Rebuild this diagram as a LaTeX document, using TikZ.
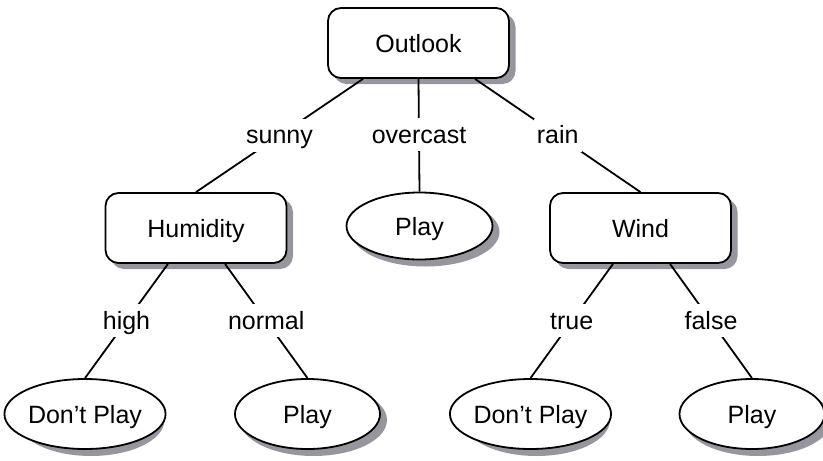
\documentclass[tikz,border=0pt]{standalone}
\usepackage{fontspec}
\setmainfont{Liberation Sans}
\usetikzlibrary{shapes.geometric,calc}
\definecolor{shadowgray}{rgb}{0.59,0.59,0.62}
\begin{document}
\begin{tikzpicture}[x=1pt,y=1pt,
  every node/.style={font=\fontsize{25}{30}\selectfont, inner sep=0pt},
  testbox/.style={draw, line width=1.8pt, rounded corners=13pt, fill=white, minimum width=181pt, minimum height=70pt, text height=18pt, text depth=0pt},
  leafbox/.style={draw, ellipse, line width=1.8pt, fill=white, minimum width=145pt, minimum height=70pt, text height=18pt, text depth=0pt},
  edge/.style={line width=1.8pt},
  boxshadow/.style={fill=shadowgray, rounded corners=13pt},
  ovalshadow/.style={fill=shadowgray},
  lbl/.style={fill=white, inner sep=3pt, text height=22pt, text depth=5pt, anchor=base, yshift=-8pt}]
\useasboundingbox (0,0) rectangle (823,-461);
\coordinate (c-outlook) at (418.5,-43);
\coordinate (c-hum) at (196,-228);
\coordinate (c-wind) at (640.5,-228);
\coordinate (c-play1) at (419.5,-226);
\coordinate (c-dp1) at (85,-414);
\coordinate (c-play2) at (307.5,-414);
\coordinate (c-dp2) at (530.5,-414);
\coordinate (c-play3) at (752,-414);
\fill[boxshadow] (418.5,-43) ++(-85,-41) rectangle ++(182,70);
\fill[boxshadow] (196,-228) ++(-85,-41) rectangle ++(182,70);
\fill[boxshadow] (640.5,-228) ++(-85,-41) rectangle ++(182,70);
\fill[ovalshadow] (425.5,-232) ellipse [x radius=74, y radius=34.5];
\fill[ovalshadow] (91,-420) ellipse [x radius=73.5, y radius=36];
\fill[ovalshadow] (313.5,-420) ellipse [x radius=73.5, y radius=36];
\fill[ovalshadow] (536.5,-420) ellipse [x radius=73.5, y radius=36];
\fill[ovalshadow] (758,-420) ellipse [x radius=73.5, y radius=36];
\node[testbox] (outlook) at (c-outlook) {Outlook};
\node[testbox] (hum) at (c-hum) {Humidity};
\node[testbox] (wind) at (c-wind) {Wind};
\node[leafbox, minimum width=146pt, minimum height=67pt] (play1) at (c-play1) {Play};
\node[leafbox] (dp1) at (c-dp1) {Don’t Play};
\node[leafbox] (play2) at (c-play2) {Play};
\node[leafbox] (dp2) at (c-dp2) {Don’t Play};
\node[leafbox] (play3) at (c-play3) {Play};
\draw[edge] ($(outlook.south)+(-55.5,0)$) -- (hum.north) node[midway, lbl] {sunny};
\draw[edge] (outlook.south) -- (play1.north) node[midway, lbl] {overcast};
\draw[edge] ($(outlook.south)+(56.5,0)$) -- (wind.north) node[midway, lbl] {rain};
\draw[edge] ($(hum.south)+(-28,0)$) -- (dp1.north) node[midway, lbl] {high};
\draw[edge] ($(hum.south)+(29,0)$) -- (play2.north) node[midway, lbl] {normal};
\draw[edge] ($(wind.south)+(-27.5,0)$) -- (dp2.north) node[midway, lbl] {true};
\draw[edge] ($(wind.south)+(29.5,0)$) -- (play3.north) node[midway, lbl] {false};
\end{tikzpicture}
\end{document}
